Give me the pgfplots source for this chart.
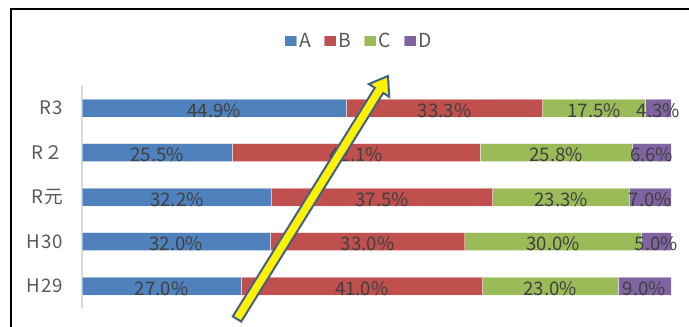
\documentclass[border=0pt]{standalone}
\usepackage{pgfplots}
\pgfplotsset{compat=1.18}
\usepackage{pgfplotstable}
\usepackage{fontspec}
\setmainfont{Noto Sans CJK JP}
\newfontfamily\spacedfont[LetterSpace=5]{Noto Sans CJK JP}

\definecolor{serA}{HTML}{4F81BD}
\definecolor{serB}{HTML}{C0504D}
\definecolor{serC}{HTML}{9BBB59}
\definecolor{serD}{HTML}{8064A2}
\definecolor{lbl}{HTML}{404040}
\definecolor{tcol}{HTML}{595959}
\definecolor{gridgray}{HTML}{D9D9D9}
\definecolor{arrowedge}{RGB}{66,96,140}

% shares per year (percent), bottom to top
\pgfplotstableread{
idx A    B    C    D
0   27.0 41.0 23.0 9.0
1   32.0 33.0 30.0 5.0
2   32.2 37.5 23.3 7.0
3   25.5 42.1 25.8 6.6
4   44.9 33.3 17.5 4.3
}\shares

\pgfplotsset{
  geom/.style={
    at={(61.5pt,13.875pt)}, anchor=south west,
    scale only axis, width=441.75pt, height=166.875pt,
    xmin=0, xmax=100, ymin=-0.5, ymax=4.5,
    /pgf/number format/assume math mode=true,
  },
  seg/.style={fill=#1, draw=white, draw opacity=0.45, line width=0.6pt},
}

\begin{document}
\begin{tikzpicture}
\useasboundingbox (0,0) rectangle (516.75pt,245.25pt);
\clip (0,0) rectangle (516.75pt,245.25pt);
\fill[white] (0,0) rectangle (516.75pt,245.25pt);
% chart frame
\draw[black, line width=1.5pt] (8pt,-20pt) rectangle (540pt,238.5pt);

\begin{axis}[geom,
  xbar stacked, bar width=13.5pt,
  axis x line=none,
  axis y line*=left,
  y axis line style={draw=gridgray, line width=1pt, -},
  ytick={0,1,2,3,4},
  yticklabels={H29,H30,R元,R２,R3},
  major tick length=0pt,
  yticklabel style={font=\spacedfont\fontsize{14}{16}\selectfont, text=tcol, anchor=east, inner sep=0pt, xshift=-14pt},
  legend columns=4,
  legend style={draw=none, fill=none, at={(0.4703,1.2022)}, anchor=center,
    font=\spacedfont\fontsize{14.5}{16}\selectfont, text=tcol,
    /tikz/every even column/.append style={column sep=8pt},
    nodes={inner sep=1.5pt}},
  legend image code/.code={\fill (0pt,-4.1pt) rectangle (9pt,4.1pt);},
]
\addplot[seg=serA] table[x=A, y=idx] {\shares};
\addplot[seg=serB] table[x=B, y=idx] {\shares};
\addplot[seg=serC] table[x=C, y=idx] {\shares};
\addplot[seg=serD] table[x=D, y=idx] {\shares};
\legend{A,B,C,D}
\end{axis}

% percentage labels centred in each segment
\begin{axis}[geom, hide axis,
  nodes near coords={\pgfmathprintnumber[fixed, fixed zerofill, precision=1]{\pgfplotspointmeta}\%},
  nodes near coords style={anchor=center, yshift=-1.5pt, text=lbl, font=\fontsize{14}{16}\selectfont, inner sep=0pt},
  point meta=explicit,
]
\addplot[draw=none, mark=none] table[x expr=\thisrow{A}/2, y=idx, meta=A] {\shares};
\addplot[draw=none, mark=none] table[x expr=\thisrow{A}+\thisrow{B}/2, y=idx, meta=B] {\shares};
\addplot[draw=none, mark=none] table[x expr=\thisrow{A}+\thisrow{B}+\thisrow{C}/2, y=idx, meta=C] {\shares};
\addplot[draw=none, mark=none] table[x expr=\thisrow{A}+\thisrow{B}+\thisrow{C}+\thisrow{D}/2, y=idx, meta=D] {\shares};
\end{axis}

% highlight arrow
\begin{scope}[x=0.75pt, y=-0.75pt, shift={(0pt,245.25pt)}]
\filldraw[fill=yellow, draw=arrowedge, line width=1.5pt, line join=miter]
  (232.8,316.4) -- (374.8,87.8) -- (368.8,84.1) -- (388,76)
  -- (389.2,96.8) -- (383.2,93.0) -- (241.2,321.6) -- cycle;
\end{scope}
\end{tikzpicture}
\end{document}
